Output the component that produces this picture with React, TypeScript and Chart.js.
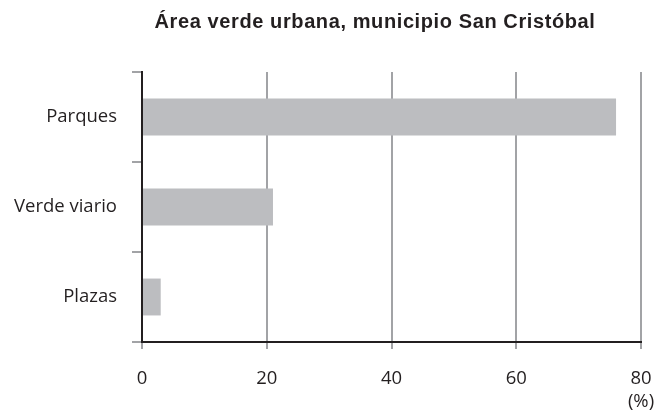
import React, { useEffect, useRef } from "react";
import { Chart, registerables } from "chart.js";

Chart.register(...registerables);

const categories = ["Parques", "Verde viario", "Plazas"];
const values = [76, 21, 3];
const xMin = 0;
const xMax = 80;
const xStep = 20;
const chartTitle = "Área verde urbana, municipio San Cristóbal";
const unitLabel = "(%)";

const DARK = "#231f20";
const GRID = "#a2a3a6";
const BAR = "#bcbdc0";
const TICK_FONT = { family: "'Open Sans', sans-serif", size: 18.5 };

const textPlugin = {
  id: "extraTexts",
  afterDraw(chart: any) {
    const ctx = chart.ctx;
    ctx.save();
    ctx.fillStyle = DARK;
    ctx.textAlign = "center";
    ctx.textBaseline = "alphabetic";
    ctx.font = 'bold 20px Arial, "Liberation Sans", sans-serif';
    try {
      (ctx as any).letterSpacing = "0.6px";
    } catch (e) {}
    ctx.fillText(chartTitle, 375, 28);
    try {
      (ctx as any).letterSpacing = "0px";
    } catch (e) {}
    const xs = chart.scales.x;
    ctx.textBaseline = "middle";
    ctx.font = "18.5px 'Open Sans', sans-serif";
    ctx.fillText(unitLabel, xs.getPixelForValue(xMax), 402);
    ctx.restore();
  },
};

export default function App() {
  const canvasRef = useRef<HTMLCanvasElement | null>(null);

  useEffect(() => {
    if (!canvasRef.current) return;
    const chart = new Chart(canvasRef.current, {
      type: "bar",
      data: {
        labels: categories,
        datasets: [
          {
            data: values,
            backgroundColor: BAR,
            borderWidth: 0,
            barPercentage: 0.41,
            categoryPercentage: 1,
          },
        ],
      },
      options: {
        indexAxis: "y",
        responsive: false,
        animation: false,
        layout: { padding: { top: 72, right: 18, bottom: 0, left: 0 } },
        plugins: {
          legend: { display: false },
          title: { display: false },
          tooltip: { enabled: false },
        },
        scales: {
          x: {
            type: "linear",
            min: xMin,
            max: xMax,
            ticks: {
              stepSize: xStep,
              color: DARK,
              font: TICK_FONT,
              padding: 19,
              maxRotation: 0,
            },
            grid: {
              color: GRID,
              lineWidth: 2,
              tickLength: 7,
              drawTicks: true,
            },
            border: { color: DARK, width: 2 },
            afterFit(scale: any) {
              scale.height = 70;
              scale.paddingLeft = 0;
              scale.paddingRight = 0;
            },
          },
          y: {
            type: "category",
            offset: true,
            ticks: {
              color: DARK,
              font: TICK_FONT,
              padding: 15,
            },
            grid: {
              offset: true,
              drawOnChartArea: false,
              drawTicks: true,
              tickLength: 10,
              color: GRID,
              lineWidth: 2,
            },
            border: { color: DARK, width: 2 },
            afterFit(scale: any) {
              scale.width = 142;
              scale.paddingTop = 0;
              scale.paddingBottom = 0;
            },
          },
        },
      },
      plugins: [textPlugin],
    } as any);
    return () => chart.destroy();
  }, []);

  return (
    <div style={{ position: "absolute", left: 0, top: 0, width: 659, height: 412, background: "#fff" }}>
      <canvas ref={canvasRef} width={659} height={412} style={{ display: "block" }} />
    </div>
  );
}
